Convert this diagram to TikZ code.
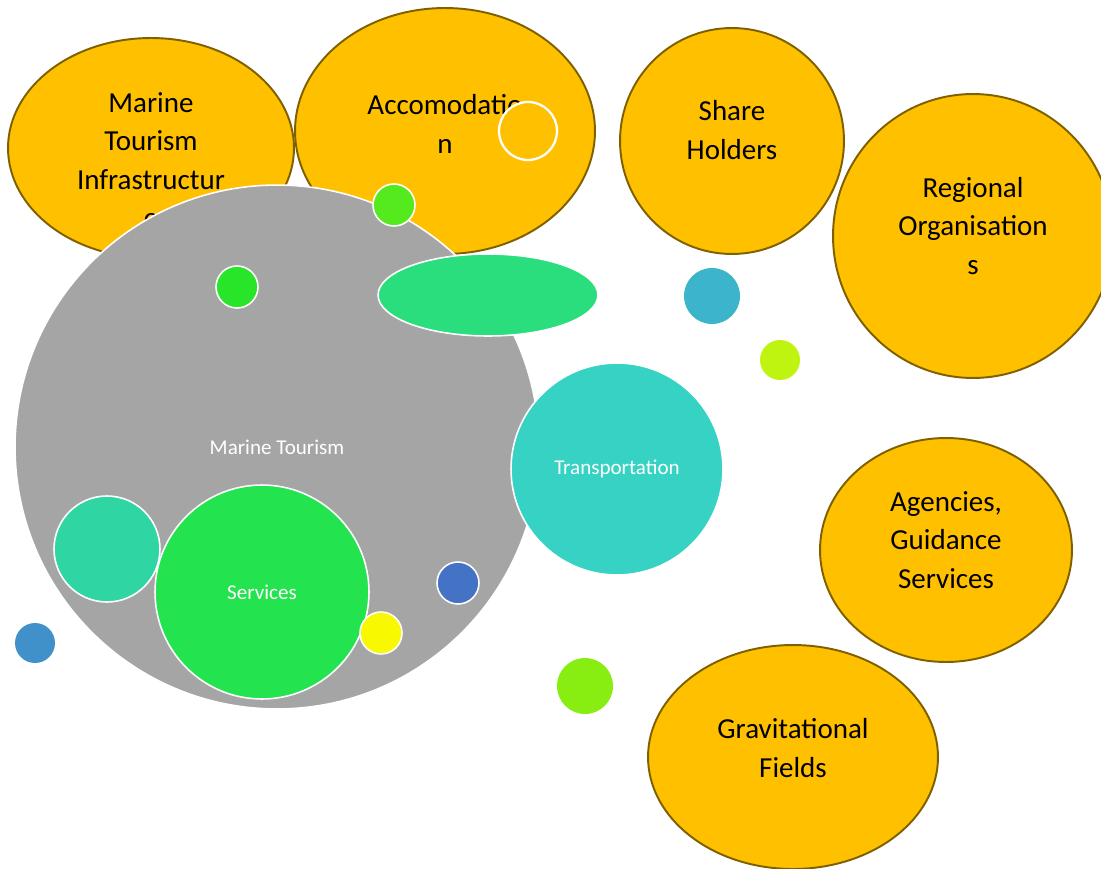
\documentclass[tikz,border=0pt]{standalone}
\usepackage{fontspec}
\setmainfont{Carlito}
\usetikzlibrary{shapes.geometric}

\definecolor{bubbleFill}{HTML}{FFC000}
\definecolor{bubbleEdge}{HTML}{7F6000}
\definecolor{tourismGray}{HTML}{A5A5A5}
\definecolor{servicesGreen}{HTML}{23E34E}
\definecolor{seaTeal}{HTML}{2FD6A3}
\definecolor{transportTeal}{HTML}{36D2C4}
\definecolor{dotYellow}{HTML}{F8F800}
\definecolor{dotNavy}{HTML}{4472C4}
\definecolor{dotBlue}{HTML}{4091C9}
\definecolor{dotLime}{HTML}{88EE11}
\definecolor{dotCyan}{HTML}{3BB4CC}
\definecolor{dotChartreuse}{HTML}{BEF410}
\definecolor{dotGreen}{HTML}{28E52A}
\definecolor{dotGrass}{HTML}{55EA1D}
\definecolor{lensGreen}{HTML}{2BDE7D}

\tikzset{
    bubble/.style={ellipse, fill=bubbleFill, draw=bubbleEdge, line width=1.1pt, inner sep=0pt},
    bubbletext/.style={align=center, font=\fontsize{16.5}{21.8}\selectfont},
    dot/.style={circle, inner sep=0pt, draw=white, line width=0.9pt},
    flatdot/.style={circle, inner sep=0pt},
    dottext/.style={text=white, font=\fontsize{12}{14}\selectfont}
}

\begin{document}
\begin{tikzpicture}[x=0.02cm, y=-0.02cm]
        \useasboundingbox (0,0) rectangle (1101,868);
        \clip (0,0) rectangle (1101,868);

        % outer bubbles
        \node[bubble, minimum width=5.72cm, minimum height=4.4cm] (infra) at (151,148) {};
        \node[bubbletext] (infratext) at (151,160) {Marine\\Tourism\\Infrastructur\\e};
        \node[bubble, minimum width=6cm, minimum height=4.92cm] (accom) at (445,131) {};
        \node[bubbletext] (accomtext) at (445,124) {Accomodatio\\n};
        \node[dot, fill=bubbleFill, line width=1.3pt, minimum size=1.16cm] (ring) at (528,131) {};
        \node[bubble, minimum width=4.48cm, minimum height=4.52cm] (holders) at (732,141) {};
        \node[bubbletext] (holderstext) at (732,130) {Share\\Holders};
        \node[bubble, minimum width=5.6cm, minimum height=5.68cm] (regional) at (973,236) {};
        \node[bubbletext] (regionaltext) at (973,226) {Regional\\Organisation\\s};
        \node[bubble, minimum width=5.04cm, minimum height=4.48cm] (agencies) at (946,550) {};
        \node[bubbletext] (agenciestext) at (946,540) {Agencies,\\Guidance\\Services};
        \node[bubble, minimum width=5.8cm, minimum height=4.48cm] (gravity) at (793,757) {};
        \node[bubbletext] (gravitytext) at (793,748) {Gravitational\\Fields};

        % big grey bubble and what sits on it
        \node[dot, fill=tourismGray, minimum size=10.48cm] (tourism) at (277,447) {};
        \node[dottext] (tourismtext) at (277,447) {Marine Tourism};
        \node[dot, fill=seaTeal, minimum size=2.12cm] (sea) at (107,549) {};
        \node[dot, fill=servicesGreen, minimum size=4.28cm] (services) at (262,592) {};
        \node[dottext] (servicestext) at (262,592) {Services};
        \node[dot, fill=dotYellow, minimum size=0.84cm] (yellow) at (381,633) {};
        \node[dot, fill=dotNavy, minimum size=0.84cm] (navy) at (458,583) {};
        \node[dot, fill=dotGreen, minimum size=0.84cm] (green) at (237,287) {};
        \node[dot, fill=dotGrass, minimum size=0.84cm] (grass) at (394,205) {};
        \node[dot, ellipse, fill=lensGreen, minimum width=4.4cm, minimum height=1.64cm] (lens) at (488,295) {};

        % transportation
        \node[dot, fill=transportTeal, minimum size=4.24cm] (transport) at (617,469) {};
        \node[dottext] (transporttext) at (617,469) {Transportation};

        % loose dots
        \node[flatdot, fill=dotBlue, minimum size=0.8cm] (blue) at (35,643) {};
        \node[flatdot, fill=dotLime, minimum size=1.12cm] (lime) at (585,686) {};
        \node[flatdot, fill=dotCyan, minimum size=1.12cm] (cyan) at (712,296) {};
        \node[flatdot, fill=dotChartreuse, minimum size=0.8cm] (chartreuse) at (780,360) {};

    \end{tikzpicture}
\end{document}
